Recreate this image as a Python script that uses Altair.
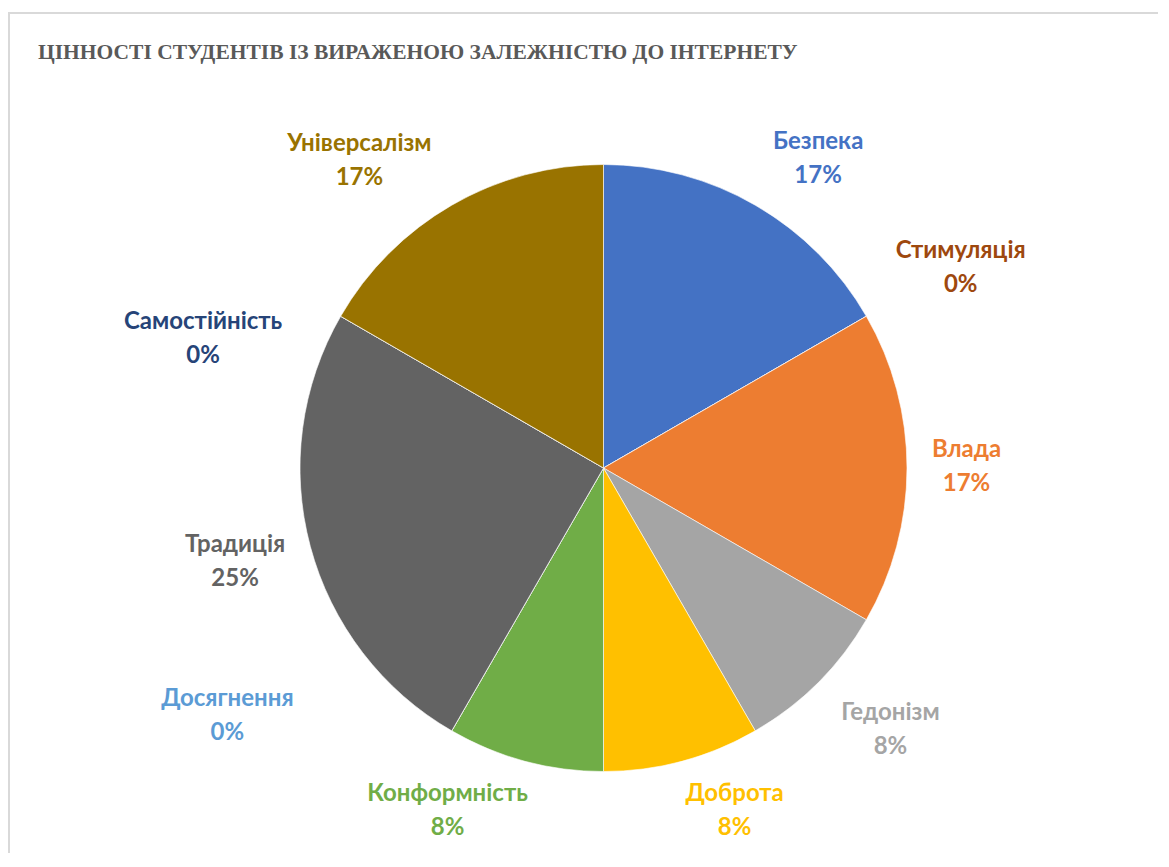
import altair as alt
import pandas as pd

categories = ["Безпека", "Стимуляція", "Влада", "Гедонізм", "Доброта",
              "Конформність", "Досягнення", "Традиція", "Самостійність", "Універсалізм"]
values = [2, 0, 2, 1, 1, 1, 0, 3, 0, 2]
colors = ["#4472C4", "#9E480E", "#ED7D31", "#A5A5A5", "#FFC000",
          "#70AD47", "#5B9BD5", "#636363", "#264478", "#997300"]
title_text = "ЦІННОСТІ СТУДЕНТІВ ІЗ ВИРАЖЕНОЮ ЗАЛЕЖНІСТЮ ДО ІНТЕРНЕТУ"

# label layout (best-fit style): angular nudge from slice middle (deg), distance from centre (px)
label_nudge = {"Безпека": 4.7, "Стимуляція": 0.6, "Влада": -0.3, "Гедонізм": -2.7,
               "Доброта": -6.0, "Конформність": 9.5, "Досягнення": 26.7,
               "Традиція": 0.8, "Самостійність": -12.0, "Універсалізм": -8.4}
label_dist = {"Безпека": 377, "Стимуляція": 410, "Влада": 363, "Гедонізм": 388,
              "Доброта": 366, "Конформність": 376, "Досягнення": 450,
              "Традиція": 380, "Самостійність": 421, "Універсалізм": 393}

df = pd.DataFrame({"cat": categories, "value": values, "order": list(range(len(categories)))})
df["nudge"] = df["cat"].map(label_nudge)
df["dist"] = df["cat"].map(label_dist)

W, H = 1150, 845
CX, CY, R = 595.5, 460, 303.5

color_scale = alt.Scale(domain=categories, range=colors)

pie = alt.Chart(df).mark_arc(radius=R, stroke="white", strokeWidth=0.6).encode(
    theta=alt.Theta("value:Q", stack=True),
    order=alt.Order("order:Q"),
    color=alt.Color("cat:N", scale=color_scale, legend=None),
    x=alt.value(CX),
    y=alt.value(CY),
)

labels = alt.Chart(df).transform_window(
    cum="sum(value)", sort=[alt.SortField("order")], frame=[None, 0]
).transform_joinaggregate(
    total="sum(value)"
).transform_calculate(
    mid="2*PI*(datum.cum - datum.value/2)/datum.total + datum.nudge*PI/180",
    label="datum.cat + '\\n' + format(datum.value/datum.total, '.0%')",
).mark_text(
    font="Lato", fontWeight="bold", fontSize=24, lineBreak="\n", lineHeight=34,
    align="center", baseline="middle", dy=-16,
).encode(
    theta=alt.Theta("mid:Q", scale=None, stack=False),
    radius=alt.Radius("dist:Q", scale=None),
    text="label:N",
    color=alt.Color("cat:N", scale=color_scale, legend=None),
    x=alt.value(CX),
    y=alt.value(CY),
)

title = alt.Chart(pd.DataFrame({"t": [title_text]})).mark_text(
    align="left", baseline="middle", font="Liberation Serif", fontWeight="bold",
    fontSize=21.5, color="#595959",
).encode(x=alt.value(30), y=alt.value(45), text="t:N")

frame_top = alt.Chart(pd.DataFrame({"a": [0]})).mark_rule(color="#D9D9D9", strokeWidth=2).encode(
    x=alt.value(0), x2=alt.value(W), y=alt.value(5)
)
frame_left = alt.Chart(pd.DataFrame({"a": [0]})).mark_rule(color="#D9D9D9", strokeWidth=2).encode(
    x=alt.value(1), y=alt.value(4), y2=alt.value(H)
)

chart = alt.layer(frame_top, frame_left, pie, labels, title).resolve_scale(
    theta="independent", radius="independent"
).properties(
    width=W, height=H, padding=0, autosize="none", background="white"
).configure_view(strokeWidth=0)

chart.save("out.html", embed_options={"renderer": "svg", "actions": False})
